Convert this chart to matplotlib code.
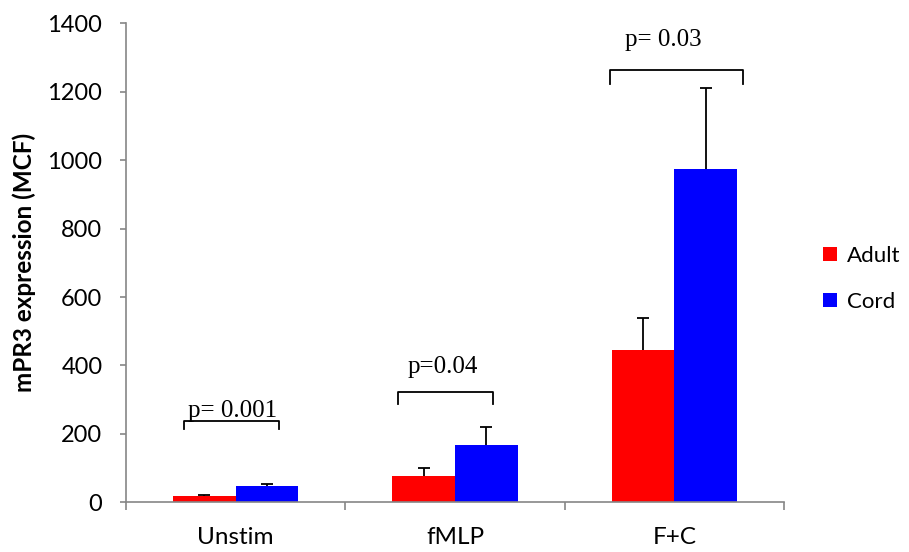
import numpy as np
import matplotlib
matplotlib.use("Agg")
import matplotlib.pyplot as plt

groups = ["Unstim", "fMLP", "F+C"]
adult = [19, 77, 446]
adult_err = [3, 24, 94]
cord = [48, 169, 973]
cord_err = [5, 51, 239]
pvals = ["p= 0.001", "p=0.04", "p= 0.03"]

plt.rcParams['font.family'] = ['Lato', 'DejaVu Sans']

fig = plt.figure(figsize=(9.09, 5.52), dpi=100)
ax = fig.add_axes([0.1386, 0.09, 0.724, 0.8677])

x = np.arange(len(groups))
w = 0.286
ax.bar(x - w / 2, adult, w, color='#ff0000', label='Adult', zorder=2)
ax.bar(x + w / 2, cord, w, color='#0000ff', label='Cord', zorder=2)

# upward-only error bars with a cap on top
for xs, vals, errs in [(x - w / 2, adult, adult_err), (x + w / 2, cord, cord_err)]:
    vals = np.array(vals)
    errs = np.array(errs)
    ax.vlines(xs, vals, vals + errs, color='black', lw=1.3, zorder=3)
    ax.plot(xs, vals + errs, ls='none', marker='_', ms=9, mew=1.3, color='black', zorder=3)

# significance brackets: (left, right, top, bottom of legs, text x, text baseline)
brackets = [(-0.236, 0.198, 238, 213, -0.012, 250),
            (0.739, 1.175, 322, 287, 0.946, 378),
            (1.707, 2.313, 1265, 1222, 1.949, 1335)]
for (x0, x1, yt, yb, tx, ty), p in zip(brackets, pvals):
    ax.plot([x0, x0, x1, x1], [yb, yt, yt, yb], color='black', lw=1.3,
            solid_joinstyle='round', zorder=4)
    ax.text(tx, ty, p, ha='center', va='baseline', fontsize=18,
            family='Liberation Serif')

ax.set_xlim(-0.5, 2.5)
ax.set_ylim(0, 1400)
ax.set_yticks(np.arange(0, 1401, 200))
ax.set_xticks(x)
ax.set_xticklabels(groups)
ax.set_xticks([-0.5, 0.5, 1.5, 2.5], minor=True)

gray = '#868686'
for s in ['top', 'right']:
    ax.spines[s].set_visible(False)
for s in ['left', 'bottom']:
    ax.spines[s].set_color(gray)
    ax.spines[s].set_linewidth(1.2)
ax.tick_params(axis='y', length=4, width=1.2, color=gray, labelsize=17, pad=13)
ax.tick_params(axis='x', which='major', length=0, labelsize=17.5, pad=18)
ax.tick_params(axis='x', which='minor', length=6, width=1.2, color=gray)

ax.set_ylabel('mPR3 expression (MCF)', fontsize=17.5, fontweight='bold', labelpad=8)

ax.legend(loc='center left', bbox_to_anchor=(0.896, 0.495), bbox_transform=fig.transFigure,
          frameon=False, fontsize=16, handlelength=0.6, handleheight=0.6,
          handletextpad=0.45, labelspacing=1.15, borderaxespad=0)

fig.savefig('out.png', dpi=100)
